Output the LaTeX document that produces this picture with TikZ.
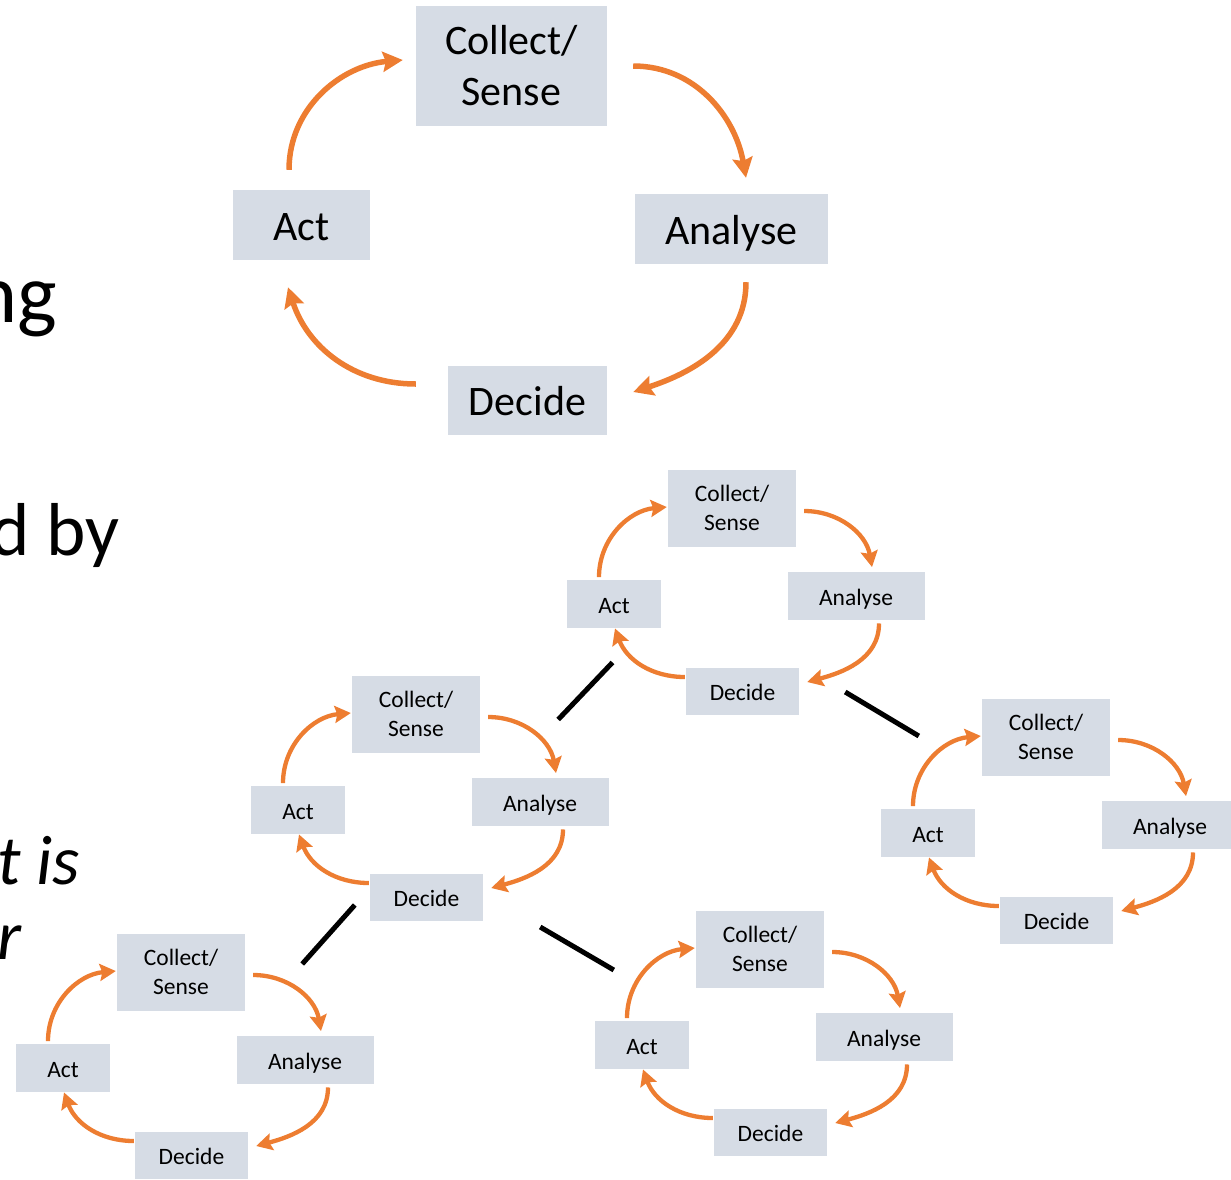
\documentclass[tikz,border=0pt]{standalone}
\usepackage{fontspec}
\setmainfont{Carlito}
\usetikzlibrary{arrows.meta,calc}
\definecolor{boxfill}{HTML}{D6DCE5}
\definecolor{cycorange}{HTML}{ED7D31}
\tikzset{
  bigbox/.style={fill=boxfill, inner sep=0pt, align=center, font=\fontsize{42}{51}\selectfont},
  bigone/.style={bigbox, text height=30pt, text depth=0pt},
  smallbox/.style={fill=boxfill, inner sep=0pt, align=center, font=\fontsize{23.5}{28.6}\selectfont},
  smallone/.style={smallbox, text height=18pt, text depth=0pt},
  bigarrow/.style={draw=cycorange, line width=5.5pt, -{Stealth[length=20pt,width=20pt,inset=3pt]}},
  smallarrow/.style={draw=cycorange, line width=4.3pt, -{Stealth[length=16pt,width=17pt,inset=2.5pt]}},
  link/.style={draw=black, line width=5pt},
  slidetext/.style={inner sep=0pt, anchor=base east},
}
\newcommand\smallcycle[3]{%
  \begin{scope}[shift={(#2,-#3)}]
    \node[smallbox, minimum width=128pt, minimum height=77pt] (#1c) at (64,-38) {Collect/\\Sense};
    \node[smallone, minimum width=94pt, minimum height=47.5pt] (#1a) at (-54,-134) {Act};
    \node[smallone, minimum width=137pt, minimum height=47.5pt] (#1an) at (188,-126) {Analyse};
    \node[smallone, minimum width=113pt, minimum height=47pt] (#1d) at (74.5,-221.5) {Decide};
  \end{scope}
  \draw[smallarrow] ($(#1a.north)+(-15,3)$) to[out=90,in=185] ($(#1c.west)+(-1,1)$);
  \draw[smallarrow] ($(#1c.east)+(8,-3)$) to[out=0,in=100] ($(#1an.north)+(16,5)$);
  \draw[smallarrow] ($(#1an.south)+(23,-3.5)$) to[out=-90,in=15] ($(#1d.east)+(8,9.5)$);
  \draw[smallarrow] ($(#1d.west)+(-1,14.5)$) to[out=180,in=-70] ($(#1a.south)+(1,-0.5)$);
}
\begin{document}
\begin{tikzpicture}[x=1pt,y=1pt]
\useasboundingbox (0,0) rectangle (1231,-1179);

% slide text fragments
\node[slidetext, font=\fontsize{84}{100}\selectfont] (t1) at (57,-322) {ng};
\node[slidetext, font=\fontsize{75}{90}\selectfont] (t2) at (120,-555) {d by};
\node[slidetext, font=\fontsize{70}{80}\selectfont\itshape] (t3) at (80,-884) {t is};
\node[slidetext, font=\fontsize{70}{80}\selectfont\itshape] (t4) at (22,-959) {r};

% large cycle
\node[bigbox, minimum width=191pt, minimum height=120pt] (Lc) at (511.5,-66) {Collect/\\Sense};
\node[bigone, minimum width=137pt, minimum height=70pt] (La) at (301.5,-225) {Act};
\node[bigone, minimum width=193pt, minimum height=70pt] (Lan) at (731.5,-229) {Analyse};
\node[bigone, minimum width=159pt, minimum height=69pt] (Ld) at (527.5,-400.5) {Decide};
\draw[bigarrow] ($(La.north)+(-12.5,20)$) to[out=90,in=185] ($(Lc.west)+(-13,6)$);
\draw[bigarrow] ($(Lc.east)+(26,0)$) to[out=0,in=100] ($(Lan.north)+(14.5,16)$);
\draw[bigarrow] ($(Lan.south)+(14.5,-18)$) to[out=-90,in=18] ($(Ld.east)+(26,8.5)$);
\draw[bigarrow] ($(Ld.west)+(-32,16.5)$) to[out=180,in=-72] ($(La.south)+(-13.5,-27)$);

% small cycles
\smallcycle{T}{668}{470}
\smallcycle{M}{352}{676}
\smallcycle{B}{117}{934}
\smallcycle{N}{696}{911}
\smallcycle{R}{982}{699}

% links between cycles
\draw[link] ($(Mc.east)+(78,-5.5)$) -- ($(Ta.south)+(-1.5,-34.5)$);
\draw[link] ($(Td.east)+(46,-0.5)$) -- ($(Rc.west)+(-63,1)$);
\draw[link] ($(Md.west)+(-15,-7.5)$) -- ($(Bc.east)+(57,8)$);
\draw[link] ($(Md.east)+(57,-29.5)$) -- ($(Nc.west)+(-82,-21)$);
\end{tikzpicture}
\end{document}
